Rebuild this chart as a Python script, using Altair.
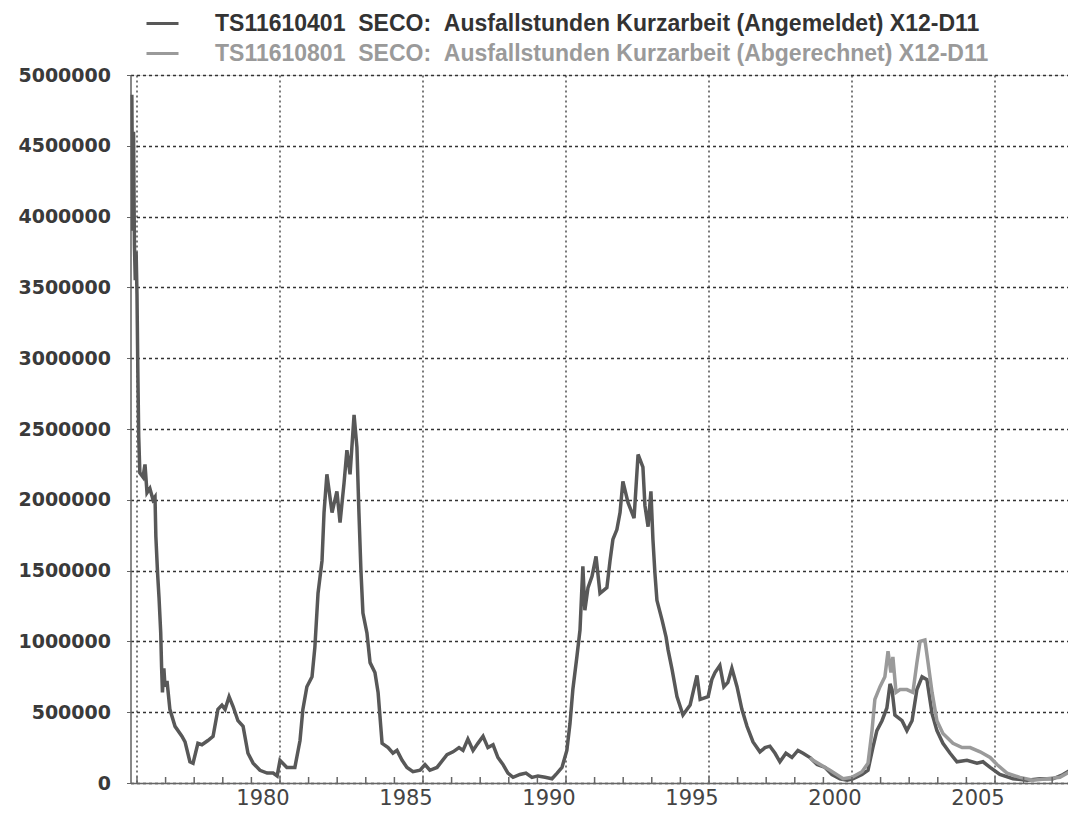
import altair as alt
import pandas as pd

NB = "\u00a0"
NAME_A = f"TS11610401{NB}{NB}SECO:{NB}{NB}Ausfallstunden Kurzarbeit (Angemeldet) X12-D11"
NAME_B = f"TS11610801{NB}{NB}SECO:{NB}{NB}Ausfallstunden Kurzarbeit (Abgerechnet) X12-D11"

# Angemeldet (dark series)
years_a = [1974.82, 1974.85, 1974.88, 1974.91, 1974.94, 1974.97, 1975.00, 1975.03, 1975.06, 1975.10,
           1975.21, 1975.28, 1975.35, 1975.45, 1975.56, 1975.63, 1975.66, 1975.72, 1975.77, 1975.83,
           1975.86, 1975.89, 1975.94, 1975.98, 1976.05, 1976.15, 1976.33, 1976.57, 1976.68, 1976.85,
           1976.96, 1977.13, 1977.27, 1977.48, 1977.66, 1977.83, 1977.97, 1978.08, 1978.22, 1978.36,
           1978.53, 1978.71, 1978.88, 1979.06, 1979.30, 1979.55, 1979.76, 1979.90, 1980.00, 1980.24,
           1980.52, 1980.70, 1980.80, 1980.94, 1981.12, 1981.22, 1981.33, 1981.47, 1981.54, 1981.64,
           1981.82, 1981.99, 1982.10, 1982.24, 1982.34, 1982.45, 1982.59, 1982.69, 1982.76, 1982.83,
           1982.90, 1983.04, 1983.15, 1983.32, 1983.43, 1983.57, 1983.78, 1983.95, 1984.09, 1984.27,
           1984.44, 1984.65, 1984.90, 1985.07, 1985.24, 1985.49, 1985.84, 1986.05, 1986.26, 1986.40,
           1986.57, 1986.75, 1986.92, 1987.10, 1987.27, 1987.45, 1987.62, 1987.80, 1987.97, 1988.15,
           1988.39, 1988.60, 1988.81, 1989.02, 1989.27, 1989.51, 1989.69, 1989.86, 1990.03, 1990.14,
           1990.24, 1990.38, 1990.49, 1990.59, 1990.66, 1990.77, 1990.91, 1991.05, 1991.19, 1991.43,
           1991.54, 1991.64, 1991.78, 1991.89, 1991.99, 1992.17, 1992.38, 1992.52, 1992.69, 1992.76,
           1992.87, 1992.97, 1993.04, 1993.11, 1993.18, 1993.36, 1993.50, 1993.57, 1993.71, 1993.88,
           1994.09, 1994.34, 1994.58, 1994.69, 1994.97, 1995.10, 1995.21, 1995.38, 1995.52, 1995.66,
           1995.80, 1995.98, 1996.15, 1996.33, 1996.54, 1996.78, 1996.96, 1997.13, 1997.31, 1997.48,
           1997.69, 1997.90, 1998.11, 1998.29, 1998.53, 1998.78, 1999.06, 1999.30, 1999.58, 1999.83,
           2000.03, 2000.35, 2000.56, 2000.73, 2000.87, 2001.05, 2001.22, 2001.33, 2001.40, 2001.50,
           2001.75, 2001.92, 2002.10, 2002.27, 2002.45, 2002.62, 2002.80, 2002.97, 2003.18, 2003.43,
           2003.67, 2004.02, 2004.37, 2004.58, 2004.83, 2005.17, 2005.63, 2006.12, 2006.57, 2007.03,
           2007.38, 2007.62, 2007.80]
values_a = [4860000, 3900000, 4600000, 3800000, 3550000, 3750000, 3450000, 2900000, 2450000, 2190000,
            2160000, 2250000, 2050000, 2080000, 2000000, 2020000, 1740000, 1480000, 1310000, 1060000,
            820000, 640000, 810000, 680000, 720000, 520000, 400000, 330000, 290000, 150000,
            140000, 280000, 270000, 300000, 330000, 520000, 550000, 520000, 610000, 540000,
            440000, 400000, 210000, 140000, 90000, 70000, 70000, 50000, 160000, 110000,
            110000, 300000, 520000, 680000, 750000, 960000, 1340000, 1570000, 1910000, 2180000,
            1910000, 2060000, 1840000, 2120000, 2350000, 2180000, 2600000, 2370000, 1910000, 1500000,
            1200000, 1060000, 850000, 780000, 640000, 280000, 250000, 210000, 230000, 160000,
            110000, 80000, 90000, 130000, 90000, 110000, 200000, 220000, 250000, 230000,
            310000, 230000, 280000, 330000, 250000, 270000, 180000, 130000, 70000, 40000,
            60000, 70000, 40000, 50000, 40000, 30000, 70000, 110000, 230000, 420000,
            660000, 890000, 1080000, 1530000, 1220000, 1380000, 1460000, 1600000, 1340000, 1380000,
            1570000, 1720000, 1790000, 1910000, 2130000, 1980000, 1870000, 2320000, 2230000, 1960000,
            1810000, 2060000, 1720000, 1480000, 1290000, 1150000, 1030000, 940000, 800000, 610000,
            480000, 550000, 760000, 590000, 610000, 730000, 780000, 830000, 680000, 710000,
            810000, 680000, 520000, 400000, 290000, 220000, 250000, 260000, 210000, 150000,
            210000, 180000, 230000, 210000, 180000, 130000, 110000, 60000, 30000, 20000,
            30000, 60000, 90000, 250000, 370000, 440000, 530000, 700000, 660000, 480000,
            440000, 370000, 440000, 660000, 750000, 730000, 490000, 370000, 280000, 210000,
            150000, 160000, 140000, 150000, 110000, 60000, 30000, 20000, 30000, 30000,
            60000, 90000, 400000]

# Abgerechnet (light series)
years_b = [1998.53, 1998.64, 1999.23, 1999.69, 2000.00, 2000.35, 2000.56, 2000.70, 2000.80, 2000.98,
           2001.15, 2001.26, 2001.36, 2001.43, 2001.54, 2001.68, 2001.92, 2002.13, 2002.27, 2002.38,
           2002.55, 2002.66, 2002.80, 2002.97, 2003.18, 2003.53, 2003.85, 2004.13, 2004.48, 2004.83,
           2005.07, 2005.42, 2005.87, 2006.33, 2006.82, 2007.27, 2007.62, 2007.80]
values_b = [180000, 160000, 90000, 30000, 40000, 80000, 140000, 370000, 590000, 680000,
            750000, 930000, 780000, 890000, 640000, 660000, 660000, 640000, 850000, 1000000,
            1010000, 850000, 640000, 440000, 350000, 280000, 250000, 250000, 220000, 180000,
            130000, 70000, 40000, 20000, 30000, 40000, 80000, 250000]

tick_years = list(range(1975, 2008))
grid_years = [1975, 1980, 1985, 1990, 1995, 2000, 2005]
label_years = [1980, 1985, 1990, 1995, 2000, 2005]
y_ticks = list(range(0, 5000001, 500000))

df = pd.concat([
    pd.DataFrame({"year": years_a, "value": values_a, "series": NAME_A}),
    pd.DataFrame({"year": years_b, "value": values_b, "series": NAME_B}),
], ignore_index=True)
ticks_df = pd.DataFrame({"year": tick_years})
labels_df = pd.DataFrame({"year": label_years, "text": [str(v) for v in label_years]})

W, H = 937.5, 708
xscale = alt.Scale(domain=[1974.773, 2007.553], nice=False, zero=False)
yscale = alt.Scale(domain=[0, 5000000], nice=False)

x_enc = alt.X("year:Q", scale=xscale, title=None,
              axis=alt.Axis(values=grid_years, format="d", labels=False,
                            grid=True, gridDash=[2, 3], gridColor="#333333", gridWidth=1.3,
                            ticks=False, domainColor="#666666", domainWidth=1.5))

lines = alt.Chart(df).mark_line(strokeWidth=3.5, clip=True).encode(
    x=x_enc,
    y=alt.Y("value:Q", scale=yscale, title=None,
            axis=alt.Axis(values=y_ticks, format="d", grid=True, gridDash=[3, 3],
                          gridColor="#333333", gridWidth=1.3, tickSize=4, tickColor="#666666",
                          domainColor="#666666", domainWidth=1.5,
                          labelFont="DejaVu Sans", labelFontWeight="bold", labelFontSize=19,
                          labelColor="#3a3a3a", labelPadding=16)),
    color=alt.Color("series:N",
                    scale=alt.Scale(domain=[NAME_A, NAME_B], range=["#585858", "#9a9a9a"]),
                    legend=alt.Legend(orient="none", legendX=14.5, legendY=-69, direction="vertical",
                                      title=None, symbolType="stroke", symbolSize=1024,
                                      symbolStrokeWidth=3, labelFont="Liberation Sans",
                                      labelFontWeight="bold", labelFontSize=23, labelOffset=35,
                                      labelLimit=1000, rowPadding=0, padding=0,
                                      labelColor={"expr": f"datum.value === '{NAME_B}' ? '#9a9a9a' : '#333333'"})),
    order=alt.Order("year:Q"),
)

ticks = alt.Chart(ticks_df).mark_rule(color="#666666", strokeWidth=1.5).encode(
    x=x_enc,
    y=alt.value(H - 6),
    y2=alt.value(H),
)

xlabels = alt.Chart(labels_df).mark_text(
    font="DejaVu Sans", fontSize=21, color="#444444", dx=-17, baseline="alphabetic", align="center"
).encode(
    x=x_enc,
    y=alt.value(H + 22),
    text="text:N",
)

chart = alt.layer(lines, ticks, xlabels).properties(
    width=W, height=H,
    autosize=alt.AutoSizeParams(type="none"),
    padding={"left": 122.5, "top": 67, "right": 0, "bottom": 28},
).configure_view(stroke=None).configure(background="white")

chart.save("out.html", embed_options={"renderer": "svg", "actions": False})
